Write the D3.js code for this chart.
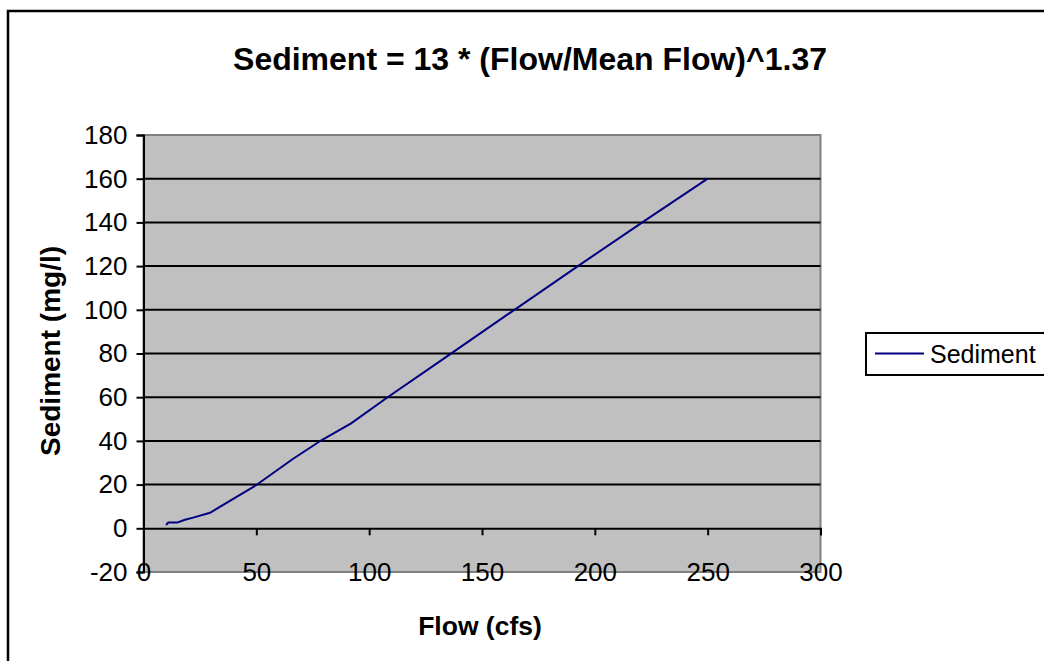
<!DOCTYPE html>
<html>
<head>
<meta charset="utf-8">
<script src="https://d3js.org/d3.v7.min.js"></script>
<style>
  html, body { margin: 0; background: #fff; overflow: hidden; }
  svg { display: block; }
  text { font-family: "Liberation Sans", Arial, sans-serif; fill: #000; }
</style>
</head>
<body>
<svg id="chart"></svg>
<script>
// data
var flow     = [10, 11, 15, 18, 22, 29.5, 34, 50, 66, 79, 92, 108.5, 130, 150, 170, 192.5, 223, 250];
var sediment = [1.5, 2.6, 2.6, 3.8, 4.9, 7.1, 9.9, 19.8, 31.6, 40.4, 48, 60.2, 75.5, 89.8, 104, 120, 141.4, 160];
var xTicks = [0, 50, 100, 150, 200, 250, 300];
var yTicks = [-20, 0, 20, 40, 60, 80, 100, 120, 140, 160, 180];
var titleText = "Sediment = 13 * (Flow/Mean Flow)^1.37";
var seriesName = "Sediment";

var W = 1044, H = 661;
var plot = { left: 143.5, right: 820.5, top: 135, bottom: 572 };
var plain = function(d) { return String(d); };   // keeps the ascii "-"

var svg = d3.select("#chart").attr("width", W).attr("height", H);

// outer chart frame (runs off the right / bottom)
svg.append("rect")
  .attr("x", 8).attr("y", 11)
  .attr("width", W + 20).attr("height", H + 20)
  .attr("fill", "#fff").attr("stroke", "#000").attr("stroke-width", 2.5);

var x = d3.scaleLinear().domain([0, 300]).range([plot.left, plot.right]);
var y = d3.scaleLinear().domain([-20, 180]).range([plot.bottom, plot.top]);

// plot area
svg.append("rect")
  .attr("x", plot.left).attr("y", plot.top)
  .attr("width", plot.right - plot.left).attr("height", plot.bottom - plot.top)
  .attr("fill", "#c0c0c0").attr("stroke", "#808080").attr("stroke-width", 2);

// gridlines
svg.append("g").selectAll("line")
  .data(yTicks.filter(function(d) { return d > 0 && d < 180; }))
  .enter().append("line")
  .attr("x1", plot.left).attr("x2", plot.right)
  .attr("y1", function(d) { return y(d); }).attr("y2", function(d) { return y(d); })
  .attr("stroke", "#000").attr("stroke-width", 2);

// y axis
var yAxis = d3.axisLeft(y).tickValues(yTicks).tickSize(7).tickPadding(9).tickFormat(plain);
var gy = svg.append("g").attr("transform", "translate(" + plot.left + ",0)").call(yAxis);
gy.select(".domain").attr("stroke", "#000").attr("stroke-width", 2);
gy.selectAll(".tick line").attr("stroke", "#000").attr("stroke-width", 2);
gy.selectAll(".tick text").style("font-size", "26px").attr("fill", "#000")
  .style("font-family", "'Liberation Sans', Arial, sans-serif");

// x axis sits at y = 0, labels hang below the plot area
var xAxis = d3.axisBottom(x).tickValues(xTicks).tickSize(7).tickFormat(plain);
var gx = svg.append("g").attr("transform", "translate(0," + y(0) + ")").call(xAxis);
gx.select(".domain").attr("stroke", "#000").attr("stroke-width", 2);
gx.selectAll(".tick line").attr("stroke", "#000").attr("stroke-width", 2);
gx.selectAll(".tick text")
  .attr("y", plot.bottom - y(0) + 9).attr("dy", "0")
  .style("font-size", "26px").attr("fill", "#000")
  .style("font-family", "'Liberation Sans', Arial, sans-serif");

// series line
var pts = flow.map(function(f, i) { return [f, sediment[i]]; });
svg.append("path")
  .datum(pts)
  .attr("fill", "none")
  .attr("stroke", "#000080")
  .attr("stroke-width", 2)
  .attr("d", d3.line().x(function(d) { return x(d[0]); }).y(function(d) { return y(d[1]); }));

// titles
svg.append("text")
  .attr("x", 530).attr("y", 70)
  .attr("text-anchor", "middle")
  .style("font-size", "32px").style("font-weight", "bold")
  .text(titleText);

svg.append("text")
  .attr("x", 480).attr("y", 635)
  .attr("text-anchor", "middle")
  .style("font-size", "26.5px").style("font-weight", "bold")
  .text("Flow (cfs)");

svg.append("text")
  .attr("transform", "translate(60,351) rotate(-90)")
  .attr("text-anchor", "middle")
  .style("font-size", "28px").style("font-weight", "bold")
  .text("Sediment (mg/l)");

// legend
var lg = svg.append("g");
lg.append("rect")
  .attr("x", 866).attr("y", 333)
  .attr("width", 220).attr("height", 42)
  .attr("fill", "#fff").attr("stroke", "#000").attr("stroke-width", 2);
lg.append("line")
  .attr("x1", 875).attr("x2", 924).attr("y1", 353.5).attr("y2", 353.5)
  .attr("stroke", "#000080").attr("stroke-width", 2);
lg.append("text")
  .attr("x", 930).attr("y", 363)
  .style("font-size", "25px")
  .text(seriesName);
</script>
</body>
</html>
